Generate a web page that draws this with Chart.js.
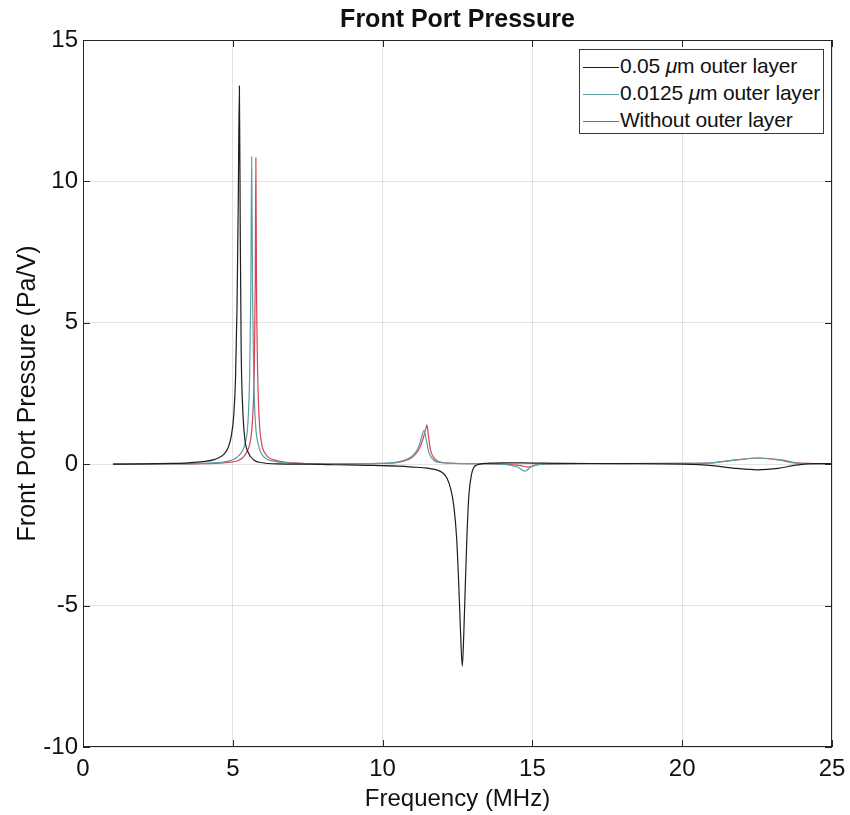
<!DOCTYPE html>
<html>
<head>
<meta charset="utf-8">
<script src="https://cdn.jsdelivr.net/npm/chart.js@4.4.1/dist/chart.umd.min.js"></script>
<style>
  body { margin: 0; background: #fff; }
  #wrap { position: relative; width: 850px; height: 815px; }
  #legend {
    position: absolute; left: 579px; top: 49px; width: 243px; height: 81px;
    border: 1px solid #3a3a3a; background: #fff;
    font-family: "Liberation Sans", Arial, sans-serif; font-size: 21px; color: #111;
    padding-top: 2px;
  }
  #legend .row { height: 27px; line-height: 27px; white-space: nowrap; letter-spacing: -0.2px; }
  #legend .swatch { display: inline-block; width: 36px; margin: 0 1px 0 3px; vertical-align: middle; border-top: 1.5px solid; }
</style>
</head>
<body>
<div id="wrap">
  <canvas id="myChart" width="850" height="815"></canvas>
  <div id="legend"></div>
</div>
<script>
var titleText = 'Front Port Pressure';
var xLabel = 'Frequency (MHz)';
var yLabel = 'Front Port Pressure (Pa/V)';
var xTicks = [0, 5, 10, 15, 20, 25];
var yTicks = [-10, -5, 0, 5, 10, 15];
var seriesLabels = ['0.05 μm outer layer', '0.0125 μm outer layer', 'Without outer layer'];
var seriesColors = ['#1e1e1e', '#5a9fa6', '#d8434f'];

// 0.05 um outer layer
var freqA = [1, 2, 3, 3.5, 4, 4.4, 4.7, 4.85, 4.95, 5.03, 5.09, 5.14, 5.18, 5.22, 5.25, 5.28, 5.33, 5.4, 5.5, 5.7, 6, 6.5, 7.5, 8.5, 9.5, 10.5, 11, 11.5, 11.8, 12, 12.15, 12.28, 12.38, 12.47, 12.54, 12.6, 12.66, 12.71, 12.76, 12.82, 12.88, 12.96, 13.1, 13.5, 14, 15, 16, 18, 20, 21, 21.8, 22.5, 23.2, 23.8, 24.5, 25];
var presA = [0, 0.01, 0.03, 0.05, 0.09, 0.17, 0.35, 0.6, 1.0, 1.7, 3.0, 5.5, 9.0, 13.37, 8.0, 4.0, 2.0, 0.9, 0.45, 0.15, 0.05, 0.01, 0, -0.02, -0.04, -0.07, -0.1, -0.14, -0.2, -0.3, -0.5, -0.9, -1.5, -2.6, -4.2, -5.9, -7.14, -6.0, -4.3, -2.4, -1.1, -0.4, -0.05, 0.03, 0.05, 0.04, 0.03, 0.02, 0, -0.05, -0.15, -0.2, -0.15, -0.03, 0.02, 0.02];

// 0.0125 um outer layer
var freqB = [1, 3, 4, 4.8, 5.2, 5.4, 5.5, 5.56, 5.6, 5.63, 5.66, 5.7, 5.76, 5.85, 6, 6.4, 7, 8, 9, 10, 10.6, 11, 11.2, 11.3, 11.38, 11.45, 11.55, 11.7, 12, 13, 14, 14.5, 14.75, 14.95, 15.3, 17, 20, 21, 21.8, 22.5, 23.2, 23.8, 25];
var presB = [0, 0.01, 0.03, 0.1, 0.3, 0.7, 1.4, 3.0, 6.0, 10.87, 6.0, 3.0, 1.4, 0.7, 0.3, 0.1, 0.04, 0.02, 0.02, 0.03, 0.1, 0.3, 0.6, 0.95, 1.19, 0.9, 0.4, 0.15, 0.05, 0.02, 0, -0.1, -0.25, -0.1, 0, 0.02, 0.03, 0.05, 0.15, 0.22, 0.15, 0.04, 0.02];

// without outer layer
var freqC = [1, 3, 4, 5, 5.3, 5.5, 5.6, 5.67, 5.72, 5.75, 5.77, 5.79, 5.83, 5.88, 5.95, 6.1, 6.5, 7, 8, 9, 10, 10.6, 11, 11.2, 11.35, 11.44, 11.48, 11.53, 11.6, 11.75, 12, 13, 14, 14.6, 14.85, 15.1, 15.5, 17, 20, 21, 21.8, 22.6, 23.3, 23.9, 25];
var presC = [0, 0.01, 0.02, 0.08, 0.2, 0.5, 0.9, 1.8, 3.5, 6.5, 10.83, 6.5, 3.2, 1.6, 0.8, 0.35, 0.12, 0.05, 0.02, 0.02, 0.03, 0.08, 0.25, 0.5, 0.9, 1.25, 1.39, 1.0, 0.5, 0.18, 0.06, 0.02, 0, -0.05, -0.1, -0.03, 0, 0.02, 0.03, 0.05, 0.15, 0.22, 0.15, 0.04, 0.02];

function toPoints(xs, ys) {
  return xs.map(function(x, i){ return {x: x, y: ys[i]}; });
}

var fontName = '"Liberation Sans", Arial, sans-serif';

var framePlugin = {
  id: 'frame',
  afterDraw: function(chart) {
    var ctx = chart.ctx, a = chart.chartArea, sx = chart.scales.x, sy = chart.scales.y;
    ctx.save();
    ctx.strokeStyle = '#262626';
    ctx.lineWidth = 1;
    ctx.strokeRect(Math.round(a.left) + 0.5, Math.round(a.top) + 0.5, Math.round(a.right - a.left) - 1, Math.round(a.bottom - a.top) - 1);
    ctx.beginPath();
    xTicks.forEach(function(v){
      var px = Math.round(sx.getPixelForValue(v)) + 0.5;
      ctx.moveTo(px, a.bottom); ctx.lineTo(px, a.bottom - 7);
      ctx.moveTo(px, a.top); ctx.lineTo(px, a.top + 7);
    });
    yTicks.forEach(function(v){
      var py = Math.round(sy.getPixelForValue(v)) + 0.5;
      ctx.moveTo(a.left, py); ctx.lineTo(a.left + 7, py);
      ctx.moveTo(a.right, py); ctx.lineTo(a.right - 7, py);
    });
    ctx.stroke();
    ctx.fillStyle = '#111';
    ctx.font = 'bold 25px ' + fontName;
    ctx.textAlign = 'center';
    ctx.textBaseline = 'middle';
    ctx.fillText(titleText, (a.left + a.right) / 2, a.top - 20);
    ctx.restore();
  }
};

var ctx = document.getElementById('myChart').getContext('2d');
var myChart = new Chart(ctx, {
  type: 'line',
  data: {
    datasets: [
      {label: seriesLabels[0], data: toPoints(freqA, presA), borderColor: seriesColors[0]},
      {label: seriesLabels[1], data: toPoints(freqB, presB), borderColor: seriesColors[1]},
      {label: seriesLabels[2], data: toPoints(freqC, presC), borderColor: seriesColors[2]}
    ]
  },
  options: {
    responsive: false,
    animation: false,
    layout: {padding: {top: 40, right: 18, bottom: 0, left: 0}},
    elements: {
      point: {radius: 0},
      line: {borderWidth: 1.2, cubicInterpolationMode: 'monotone', fill: false}
    },
    plugins: {
      legend: {display: false},
      title: {display: false},
      tooltip: {enabled: false}
    },
    scales: {
      x: {
        type: 'linear', min: 0, max: 25,
        afterFit: function(scale){ scale.height = 68; scale.paddingLeft = 0; scale.paddingRight = 0; },
        afterBuildTicks: function(scale){ scale.ticks = xTicks.map(function(v){ return {value: v}; }); },
        grid: {color: 'rgba(0,0,0,0.11)', drawTicks: false},
        border: {display: false},
        ticks: {padding: 8, color: '#111', font: {family: fontName, size: 24}},
        title: {display: true, text: xLabel, color: '#111', font: {family: fontName, size: 24}, padding: {top: 0, bottom: 1}}
      },
      y: {
        min: -10, max: 15,
        afterFit: function(scale){ scale.width = 83; scale.paddingTop = 0; scale.paddingBottom = 0; },
        afterBuildTicks: function(scale){ scale.ticks = yTicks.map(function(v){ return {value: v}; }); },
        grid: {color: 'rgba(0,0,0,0.11)', drawTicks: false},
        border: {display: false},
        ticks: {padding: 5, color: '#111', font: {family: fontName, size: 24}},
        title: {display: true, text: yLabel, color: '#111', font: {family: fontName, size: 25}, padding: {top: 13, bottom: 0}}
      }
    }
  },
  plugins: [framePlugin]
});

// legend built from the chart datasets
var legendHtml = '';
myChart.data.datasets.forEach(function(ds){
  legendHtml += '<div class="row"><span class="swatch" style="border-color:' + ds.borderColor + '"></span>' +
    ds.label.replace('μ', '<i>μ</i>') + '</div>';
});
document.getElementById('legend').innerHTML = legendHtml;
</script>
</body>
</html>
